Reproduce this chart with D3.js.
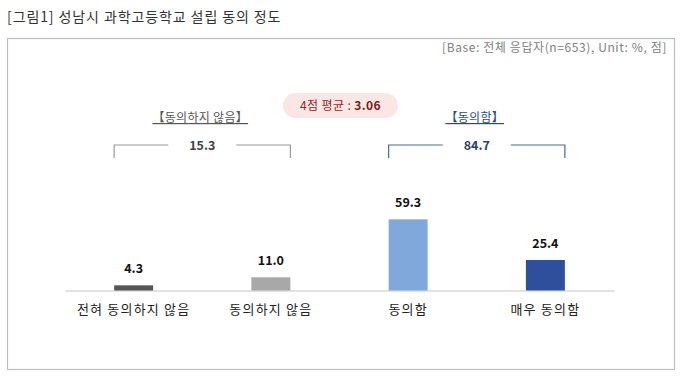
<!DOCTYPE html>
<html><head><meta charset="utf-8">
<script src="https://cdn.jsdelivr.net/npm/d3@7"></script>
<style>
body{margin:0;background:#fff;}
text{font-family:"Noto Sans CJK KR","Noto Sans",sans-serif;}
</style></head>
<body>
<svg id="c" width="680" height="377"></svg>
<script>
const categories = ["전혀 동의하지 않음","동의하지 않음","동의함","매우 동의함"];
const values = [4.3, 11.0, 59.3, 25.4];
const barColors = ["#555555","#a8a8a8","#80a8da","#2f4f9c"];
const groupLabels = ["【동의하지 않음】","【동의함】"];
const groupValues = ["15.3","84.7"];
const groupMembers = [[0,1],[2,3]];
const meanLabel = "4점 평균 : ";
const meanValue = "3.06";
const title = "[그림1] 성남시 과학고등학교 설립 동의 정도";
const baseNote = "[Base: 전체 응답자(n=653), Unit: %, 점]";

const svg = d3.select("#c");
svg.append("text").attr("x",7).attr("y",22).attr("font-size",14).attr("letter-spacing",0.9)
  .attr("fill","#333").text(title);
svg.append("rect").attr("x",7.5).attr("y",38.5).attr("width",667).attr("height",331)
  .attr("fill","none").attr("stroke","#bdbdbd").attr("stroke-width",1.2);
svg.append("text").attr("x",667).attr("y",52).attr("text-anchor","end").attr("font-size",12)
  .attr("letter-spacing",0.6).attr("fill","#808080").text(baseNote);

const p = 0.716;
const x = d3.scaleBand().domain(categories).range([65,614]).paddingInner(p).paddingOuter(p/2);
const y = d3.scaleLinear().domain([0,100]).range([290.5,170.5]);

// baseline axis
const ax = svg.append("g").attr("transform","translate(0,290.5)")
  .call(d3.axisBottom(x).tickSize(0).tickPadding(14));
ax.select(".domain").attr("stroke","#c8c8c8").attr("stroke-width",1.2);
ax.selectAll("text").attr("font-size",13).attr("fill","#222").attr("letter-spacing",1.2)
  .attr("font-family",'"Noto Sans CJK KR",sans-serif');

svg.selectAll("rect.bar").data(values).enter().append("rect").attr("class","bar")
  .attr("x",(d,i)=>x(categories[i])).attr("width",x.bandwidth())
  .attr("y",d=>y(d)).attr("height",d=>y(0)-y(d)).attr("fill",(d,i)=>barColors[i]);

svg.selectAll("text.val").data(values).enter().append("text").attr("class","val")
  .attr("x",(d,i)=>x(categories[i])+x.bandwidth()/2).attr("y",d=>y(d)-12)
  .attr("text-anchor","middle").attr("font-size",12.5).attr("font-weight","bold")
  .attr("fill","#111").text(d=>d.toFixed(1));

// brackets
const bColors = ["#9a9a9a","#4f6a8f"];
const tColors = ["#444","#2d4266"];
const hColors = ["#555","#2d4a7a"];
groupMembers.forEach((m,gi)=>{
  const x0 = x(categories[m[0]]), x1 = x(categories[m[1]])+x.bandwidth();
  const cx = (x0+x1)/2, yb = 145;
  const g = svg.append("g").attr("stroke",bColors[gi]).attr("stroke-width",1.2).attr("fill","none");
  g.append("path").attr("d",`M${x0},${yb+13}V${yb}H${cx-34}`);
  g.append("path").attr("d",`M${cx+34},${yb}H${x1}V${yb+13}`);
  svg.append("text").attr("x",cx).attr("y",yb+4.5).attr("text-anchor","middle")
    .attr("font-size",12.5).attr("font-weight","bold").attr("fill",tColors[gi]).text(groupValues[gi]);
  svg.append("text").attr("x",cx-2).attr("y",122).attr("text-anchor","middle")
    .attr("font-size",12).attr("letter-spacing",0.3).attr("fill",hColors[gi])
    .attr("text-decoration","underline").text(groupLabels[gi]);
});

// mean pill
const pill = svg.append("g");
pill.append("rect").attr("x",283).attr("y",93).attr("width",115).attr("height",25).attr("rx",12.5)
  .attr("fill","#fbe6e6");
const mt = pill.append("text").attr("x",340.5).attr("y",110).attr("text-anchor","middle")
  .attr("font-size",12).attr("letter-spacing",0.4).attr("fill","#8e2a2a");
mt.append("tspan").text(meanLabel);
mt.append("tspan").attr("font-weight","bold").attr("fill","#7a1a1a").text(meanValue);
</script>
</body></html>
